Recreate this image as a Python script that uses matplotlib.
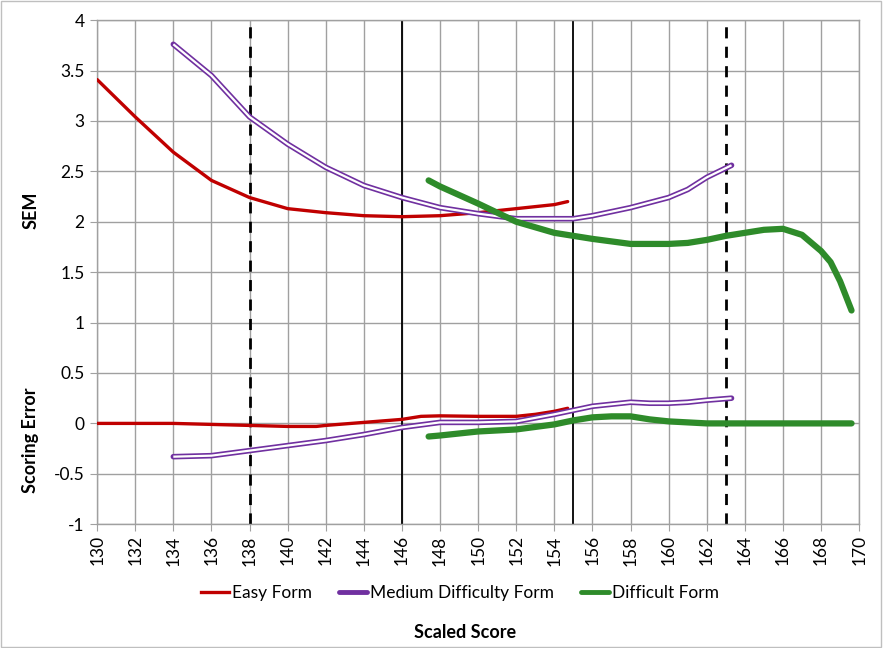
import matplotlib
matplotlib.use("Agg")
import matplotlib.pyplot as plt
from matplotlib.lines import Line2D
from matplotlib.patches import Rectangle

plt.rcParams['font.family'] = ['Lato', 'DejaVu Sans']

# SEM curves
easy_x = [130, 132, 134, 136, 138, 140, 142, 144, 146, 148, 150, 152, 154, 154.7]
easy_sem = [3.41, 3.04, 2.69, 2.41, 2.24, 2.13, 2.09, 2.06, 2.05, 2.06, 2.09, 2.13, 2.17, 2.20]
med_x = [134, 136, 138, 140, 142, 144, 146, 148, 150, 152, 154, 155, 156, 158, 160, 161, 162, 163.3]
med_sem = [3.76, 3.45, 3.04, 2.77, 2.54, 2.36, 2.24, 2.14, 2.08, 2.03, 2.03, 2.03, 2.06, 2.14, 2.24,
           2.32, 2.44, 2.56]
diff_x = [147.4, 148, 150, 152, 154, 155, 156, 158, 160, 161, 162, 163, 164, 165, 166, 167, 168,
          168.5, 169, 169.6]
diff_sem = [2.41, 2.35, 2.18, 2.00, 1.89, 1.86, 1.83, 1.78, 1.78, 1.79, 1.82, 1.86, 1.89, 1.92, 1.93,
            1.87, 1.71, 1.60, 1.41, 1.12]

# scoring error curves
easy_ex = [130, 132, 134, 136, 138, 140, 141.5, 142, 144, 146, 147, 148, 150, 152, 153, 154, 154.7]
easy_err = [0, 0, 0, -0.01, -0.02, -0.03, -0.03, -0.02, 0.01, 0.04, 0.07, 0.075, 0.07, 0.07, 0.09,
            0.12, 0.15]
med_ex = [134, 136, 138, 140, 142, 144, 146, 148, 150, 152, 154, 155, 156, 157, 158, 159, 160, 161,
          162, 163.3]
med_err = [-0.33, -0.32, -0.27, -0.22, -0.17, -0.11, -0.04, 0.01, 0.01, 0.02, 0.09, 0.13, 0.17, 0.19,
           0.21, 0.20, 0.20, 0.21, 0.23, 0.25]
diff_ex = [147.4, 148, 150, 152, 154, 155, 156, 157, 158, 159, 160, 161, 162, 163, 165, 167, 169.6]
diff_err = [-0.13, -0.12, -0.08, -0.06, -0.01, 0.03, 0.06, 0.07, 0.07, 0.04, 0.02, 0.01, 0.0, 0.0,
            0.0, 0.0, 0.0]

dashed_cuts = [138, 163]
solid_cuts = [146, 155]

red = '#C00000'
purple = '#7030A0'
green = '#2E8B2A'

fig = plt.figure(figsize=(8.83, 6.48), dpi=100)
ax = fig.add_axes([0.110, 0.191, 0.863, 0.778])

ax.set_xlim(130, 170)
ax.set_ylim(-1, 4)
ax.set_xticks(range(130, 171, 2))
ax.set_yticks([-1, -0.5, 0, 0.5, 1, 1.5, 2, 2.5, 3, 3.5, 4])
ax.set_yticklabels(['-1', '-0.5', '0', '0.5', '1', '1.5', '2', '2.5', '3', '3.5', '4'])
ax.grid(True, color='#a0a0a0', lw=1.0)
ax.set_axisbelow(True)
ax.tick_params(axis='x', labelrotation=90, labelsize=12.5, length=5, color='#a0a0a0', pad=3)
ax.tick_params(axis='y', labelsize=12.5, length=5, color='#a0a0a0', pad=4)
for s in ax.spines.values():
    s.set_color('#a0a0a0')
    s.set_linewidth(1.0)

for c in dashed_cuts:
    ax.axvline(c, color='black', lw=2, ls=(0, (4, 3)), zorder=2)
for c in solid_cuts:
    ax.axvline(c, color='black', lw=1.3, zorder=2)

# easy form
ax.plot(easy_x, easy_sem, color=red, lw=2.4, solid_capstyle='round', solid_joinstyle='round',
        zorder=3)
ax.plot(easy_ex, easy_err, color=red, lw=2.4, solid_capstyle='round', solid_joinstyle='round',
        zorder=3)
# medium form, drawn as a hollow double line with closed ends
for xs, ys in [(med_x, med_sem), (med_ex, med_err)]:
    ax.plot(xs, ys, color=purple, lw=4.0, solid_capstyle='round', solid_joinstyle='round', zorder=4)
    ax.plot(xs, ys, color='white', lw=1.6, solid_capstyle='butt', solid_joinstyle='round', zorder=4)
# difficult form
ax.plot(diff_x, diff_sem, color=green, lw=4.5, solid_capstyle='round', solid_joinstyle='round',
        zorder=5)
ax.plot(diff_ex, diff_err, color=green, lw=4.5, solid_capstyle='round', solid_joinstyle='round',
        zorder=5)

fig.text(0.035, 1 - 210 / 648, 'SEM', rotation=90, ha='center', va='center',
         fontsize=13, fontweight='bold')
fig.text(0.035, 1 - 440 / 648, 'Scoring Error', rotation=90, ha='center', va='center',
         fontsize=13, fontweight='bold')
fig.text(465 / 883, 1 - 633 / 648, 'Scaled Score', ha='center', va='center',
         fontsize=13, fontweight='bold')

handles = [Line2D([], [], color=red, lw=2.4),
           Line2D([], [], color=purple, lw=3.5, solid_capstyle='round'),
           Line2D([], [], color=green, lw=3.5, solid_capstyle='round')]
labels = ['Easy Form', 'Medium Difficulty Form', 'Difficult Form']
fig.legend(handles, labels, loc='center', bbox_to_anchor=(460 / 883, 1 - 593 / 648), ncol=3,
           frameon=False, fontsize=12.5, handlelength=1.6, handletextpad=0.15, columnspacing=1.6)

fig.patches.append(Rectangle((0.001, 0.001), 0.997, 0.997, transform=fig.transFigure,
                             fill=False, edgecolor='#bfbfbf', lw=1))

fig.savefig('out.png', dpi=100)
